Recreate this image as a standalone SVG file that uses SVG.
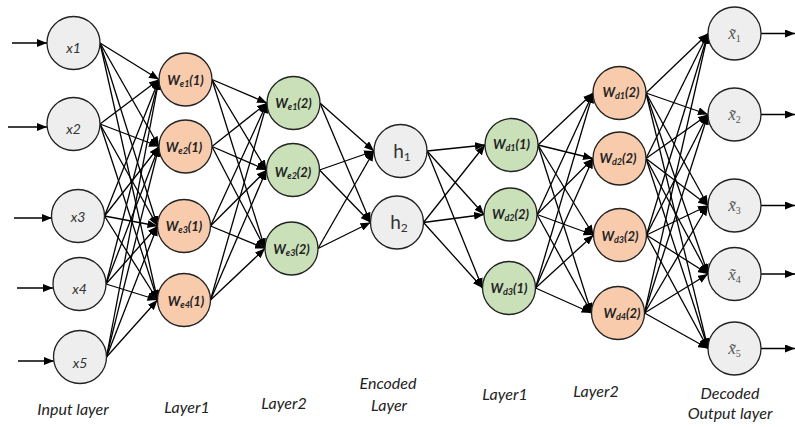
<svg xmlns="http://www.w3.org/2000/svg" width="795" height="427" viewBox="0 0 795 427">
<style>
.g{fill:#eeeeee;stroke:#222;stroke-width:1.3}
.o{fill:#f8cbad;stroke:#222;stroke-width:1.3}
.gr{fill:#c9e0b8;stroke:#222;stroke-width:1.3}
.e line{stroke:#000;stroke-width:1.3;marker-end:url(#ah)}
.xt{font-family:Lato,"Open Sans",sans-serif;font-style:italic;font-size:14px;fill:#333;text-anchor:middle}
.wt{font-family:Lato,"Open Sans",sans-serif;font-style:italic;font-weight:bold;font-size:13px;fill:#222;text-anchor:middle}
.ht{font-family:Lato,"Open Sans",sans-serif;font-size:19px;fill:#333;text-anchor:middle}
.ot{font-family:"Liberation Serif",serif;font-style:italic;font-size:17px;fill:#555;text-anchor:middle}
.sb{font-size:10px;font-style:normal}
.lb{font-family:Lato,"Open Sans",sans-serif;font-style:italic;font-size:16px;fill:#222;text-anchor:middle}
</style>
<defs>
<marker id="ah" markerUnits="userSpaceOnUse" markerWidth="10" markerHeight="8" refX="10" refY="4" orient="auto"><path d="M0,0 L10,4 L0,8 z" fill="#000"/></marker>
</defs>
<g id="connectors" class="e">
<line x1="12" y1="43" x2="47" y2="43"/>
<line x1="8" y1="127" x2="47" y2="127"/>
<line x1="14" y1="218" x2="52" y2="218"/>
<line x1="17" y1="288" x2="53" y2="288"/>
<line x1="18" y1="361" x2="54" y2="361"/>
<line x1="100" y1="43" x2="159" y2="79.5"/><line x1="100" y1="43" x2="159" y2="146.5"/><line x1="100" y1="43" x2="157.5" y2="226"/><line x1="100" y1="43" x2="157.5" y2="300"/>
<line x1="100" y1="124" x2="159" y2="79.5"/><line x1="100" y1="124" x2="159" y2="146.5"/><line x1="100" y1="124" x2="157.5" y2="226"/><line x1="100" y1="124" x2="157.5" y2="300"/>
<line x1="104.5" y1="216" x2="159" y2="79.5"/><line x1="104.5" y1="216" x2="159" y2="146.5"/><line x1="104.5" y1="216" x2="157.5" y2="226"/><line x1="104.5" y1="216" x2="157.5" y2="300"/>
<line x1="106" y1="284" x2="159" y2="79.5"/><line x1="106" y1="284" x2="159" y2="146.5"/><line x1="106" y1="284" x2="157.5" y2="226"/><line x1="106" y1="284" x2="157.5" y2="300"/>
<line x1="106.5" y1="357" x2="159" y2="79.5"/><line x1="106.5" y1="357" x2="159" y2="146.5"/><line x1="106.5" y1="357" x2="157.5" y2="226"/><line x1="106.5" y1="357" x2="157.5" y2="300"/>
<line x1="212" y1="79.5" x2="267" y2="103"/><line x1="212" y1="79.5" x2="266.5" y2="170"/><line x1="212" y1="79.5" x2="265" y2="248.5"/>
<line x1="212" y1="146.5" x2="267" y2="103"/><line x1="212" y1="146.5" x2="266.5" y2="170"/><line x1="212" y1="146.5" x2="265" y2="248.5"/>
<line x1="210.5" y1="226" x2="267" y2="103"/><line x1="210.5" y1="226" x2="266.5" y2="170"/><line x1="210.5" y1="226" x2="265" y2="248.5"/>
<line x1="210.5" y1="300" x2="267" y2="103"/><line x1="210.5" y1="300" x2="266.5" y2="170"/><line x1="210.5" y1="300" x2="265" y2="248.5"/>
<line x1="320" y1="103" x2="374" y2="151"/><line x1="320" y1="103" x2="370.5" y2="222.5"/>
<line x1="319.5" y1="170" x2="374" y2="151"/><line x1="319.5" y1="170" x2="370.5" y2="222.5"/>
<line x1="318" y1="248.5" x2="374" y2="151"/><line x1="318" y1="248.5" x2="370.5" y2="222.5"/>
<line x1="427" y1="151" x2="485" y2="145"/><line x1="427" y1="151" x2="484" y2="214.5"/><line x1="427" y1="151" x2="482.5" y2="288"/>
<line x1="423.5" y1="222.5" x2="485" y2="145"/><line x1="423.5" y1="222.5" x2="484" y2="214.5"/><line x1="423.5" y1="222.5" x2="482.5" y2="288"/>
<line x1="538" y1="145" x2="593" y2="93"/><line x1="538" y1="145" x2="593" y2="158.5"/><line x1="538" y1="145" x2="593.5" y2="235"/><line x1="538" y1="145" x2="591.5" y2="313"/>
<line x1="537" y1="214.5" x2="593" y2="93"/><line x1="537" y1="214.5" x2="593" y2="158.5"/><line x1="537" y1="214.5" x2="593.5" y2="235"/><line x1="537" y1="214.5" x2="591.5" y2="313"/>
<line x1="535.5" y1="288" x2="593" y2="93"/><line x1="535.5" y1="288" x2="593" y2="158.5"/><line x1="535.5" y1="288" x2="593.5" y2="235"/><line x1="535.5" y1="288" x2="591.5" y2="313"/>
<line x1="646" y1="93" x2="708" y2="33.5"/><line x1="646" y1="93" x2="708" y2="114.5"/><line x1="646" y1="93" x2="708" y2="205.5"/><line x1="646" y1="93" x2="708" y2="274"/><line x1="646" y1="93" x2="708" y2="348.5"/>
<line x1="646" y1="158.5" x2="708" y2="33.5"/><line x1="646" y1="158.5" x2="708" y2="114.5"/><line x1="646" y1="158.5" x2="708" y2="205.5"/><line x1="646" y1="158.5" x2="708" y2="274"/><line x1="646" y1="158.5" x2="708" y2="348.5"/>
<line x1="646.5" y1="235" x2="708" y2="33.5"/><line x1="646.5" y1="235" x2="708" y2="114.5"/><line x1="646.5" y1="235" x2="708" y2="205.5"/><line x1="646.5" y1="235" x2="708" y2="274"/><line x1="646.5" y1="235" x2="708" y2="348.5"/>
<line x1="644.5" y1="313" x2="708" y2="33.5"/><line x1="644.5" y1="313" x2="708" y2="114.5"/><line x1="644.5" y1="313" x2="708" y2="205.5"/><line x1="644.5" y1="313" x2="708" y2="274"/><line x1="644.5" y1="313" x2="708" y2="348.5"/>
<line x1="761" y1="33.5" x2="795" y2="33.5"/>
<line x1="761" y1="114.5" x2="795" y2="114.5"/>
<line x1="761" y1="205.5" x2="795" y2="205.5"/>
<line x1="761" y1="274" x2="795" y2="274"/>
<line x1="761" y1="348.5" x2="795" y2="348.5"/>
</g>
<g id="x1"><circle class="g" cx="73.5" cy="43" r="26.5"/><text class="xt" x="73.5" y="53">x1</text></g>
<g id="x2"><circle class="g" cx="73.5" cy="124" r="26.5"/><text class="xt" x="73.5" y="134">x2</text></g>
<g id="x3"><circle class="g" cx="78" cy="216" r="26.5"/><text class="xt" x="78" y="222">x3</text></g>
<g id="x4"><circle class="g" cx="79.5" cy="284" r="26.5"/><text class="xt" x="79.5" y="294">x4</text></g>
<g id="x5"><circle class="g" cx="80" cy="357" r="26.5"/><text class="xt" x="80" y="368">x5</text></g>

<g id="we1_1"><circle class="o" cx="185.5" cy="79.5" r="26.5"/><text class="wt" x="185.5" y="85">W<tspan font-size="9" dy="2">e1</tspan><tspan dy="-2">(1)</tspan></text></g>
<g id="we2_1"><circle class="o" cx="185.5" cy="146.5" r="26.5"/><text class="wt" x="184" y="152">W<tspan font-size="9" dy="2">e2</tspan><tspan dy="-2">(1)</tspan></text></g>
<g id="we3_1"><circle class="o" cx="184" cy="226" r="26.5"/><text class="wt" x="184" y="231">W<tspan font-size="9" dy="2">e3</tspan><tspan dy="-2">(1)</tspan></text></g>
<g id="we4_1"><circle class="o" cx="184" cy="300" r="26.5"/><text class="wt" x="186" y="306">W<tspan font-size="9" dy="2">e4</tspan><tspan dy="-2">(1)</tspan></text></g>

<g id="we1_2"><circle class="gr" cx="293.5" cy="103" r="26.5"/><text class="wt" x="293.5" y="108">W<tspan font-size="9" dy="2">e1</tspan><tspan dy="-2">(2)</tspan></text></g>
<g id="we2_2"><circle class="gr" cx="293" cy="170" r="26.5"/><text class="wt" x="293" y="177">W<tspan font-size="9" dy="2">e2</tspan><tspan dy="-2">(2)</tspan></text></g>
<g id="we3_2"><circle class="gr" cx="291.5" cy="248.5" r="26.5"/><text class="wt" x="291.5" y="254">W<tspan font-size="9" dy="2">e3</tspan><tspan dy="-2">(2)</tspan></text></g>

<g id="h1"><circle class="g" cx="400.5" cy="151" r="26.5"/><text class="ht" x="402" y="158">h<tspan font-size="12" dy="3">1</tspan></text></g>
<g id="h2"><circle class="g" cx="397" cy="222.5" r="26.5"/><text class="ht" x="399" y="229">h<tspan font-size="12" dy="3">2</tspan></text></g>

<g id="wd1_1"><circle class="gr" cx="511.5" cy="145" r="26.5"/><text class="wt" x="511.5" y="149">W<tspan font-size="9" dy="2">d1</tspan><tspan dy="-2">(1)</tspan></text></g>
<g id="wd2_1"><circle class="gr" cx="510.5" cy="214.5" r="26.5"/><text class="wt" x="510.5" y="219">W<tspan font-size="9" dy="2">d2</tspan><tspan dy="-2">(2)</tspan></text></g>
<g id="wd3_1"><circle class="gr" cx="509" cy="288" r="26.5"/><text class="wt" x="509" y="293">W<tspan font-size="9" dy="2">d3</tspan><tspan dy="-2">(1)</tspan></text></g>

<g id="wd1_2"><circle class="o" cx="619.5" cy="93" r="26.5"/><text class="wt" x="621" y="97">W<tspan font-size="9" dy="2">d1</tspan><tspan dy="-2">(2)</tspan></text></g>
<g id="wd2_2"><circle class="o" cx="619.5" cy="158.5" r="26.5"/><text class="wt" x="618" y="163">W<tspan font-size="9" dy="2">d2</tspan><tspan dy="-2">(2)</tspan></text></g>
<g id="wd3_2"><circle class="o" cx="620" cy="235" r="26.5"/><text class="wt" x="620" y="241">W<tspan font-size="9" dy="2">d3</tspan><tspan dy="-2">(2)</tspan></text></g>
<g id="wd4_2"><circle class="o" cx="618" cy="313" r="26.5"/><text class="wt" x="622" y="318">W<tspan font-size="9" dy="2">d4</tspan><tspan dy="-2">(2)</tspan></text></g>

<g id="xt1"><circle class="g" cx="734.5" cy="33.5" r="26.5"/><text class="ot" x="734.5" y="39">x̃<tspan class="sb" dy="3">1</tspan></text></g>
<g id="xt2"><circle class="g" cx="734.5" cy="114.5" r="26.5"/><text class="ot" x="734.5" y="120">x̃<tspan class="sb" dy="3">2</tspan></text></g>
<g id="xt3"><circle class="g" cx="734.5" cy="205.5" r="26.5"/><text class="ot" x="734.5" y="211">x̃<tspan class="sb" dy="3">3</tspan></text></g>
<g id="xt4"><circle class="g" cx="734.5" cy="274" r="26.5"/><text class="ot" x="734.5" y="279.5">x̃<tspan class="sb" dy="3">4</tspan></text></g>
<g id="xt5"><circle class="g" cx="734.5" cy="348.5" r="26.5"/><text class="ot" x="734.5" y="354">x̃<tspan class="sb" dy="3">5</tspan></text></g>

<g id="labels">
<text class="lb" x="73" y="415">Input layer</text>
<text class="lb" x="187" y="413">Layer1</text>
<text class="lb" x="284" y="409">Layer2</text>
<text class="lb" x="388" y="389">Encoded</text>
<text class="lb" x="389" y="411">Layer</text>
<text class="lb" x="505" y="400">Layer1</text>
<text class="lb" x="596" y="397">Layer2</text>
<text class="lb" x="730" y="399" font-size="15">Decoded</text>
<text class="lb" x="730" y="419" font-size="15">Output layer</text>
</g>
</svg>
